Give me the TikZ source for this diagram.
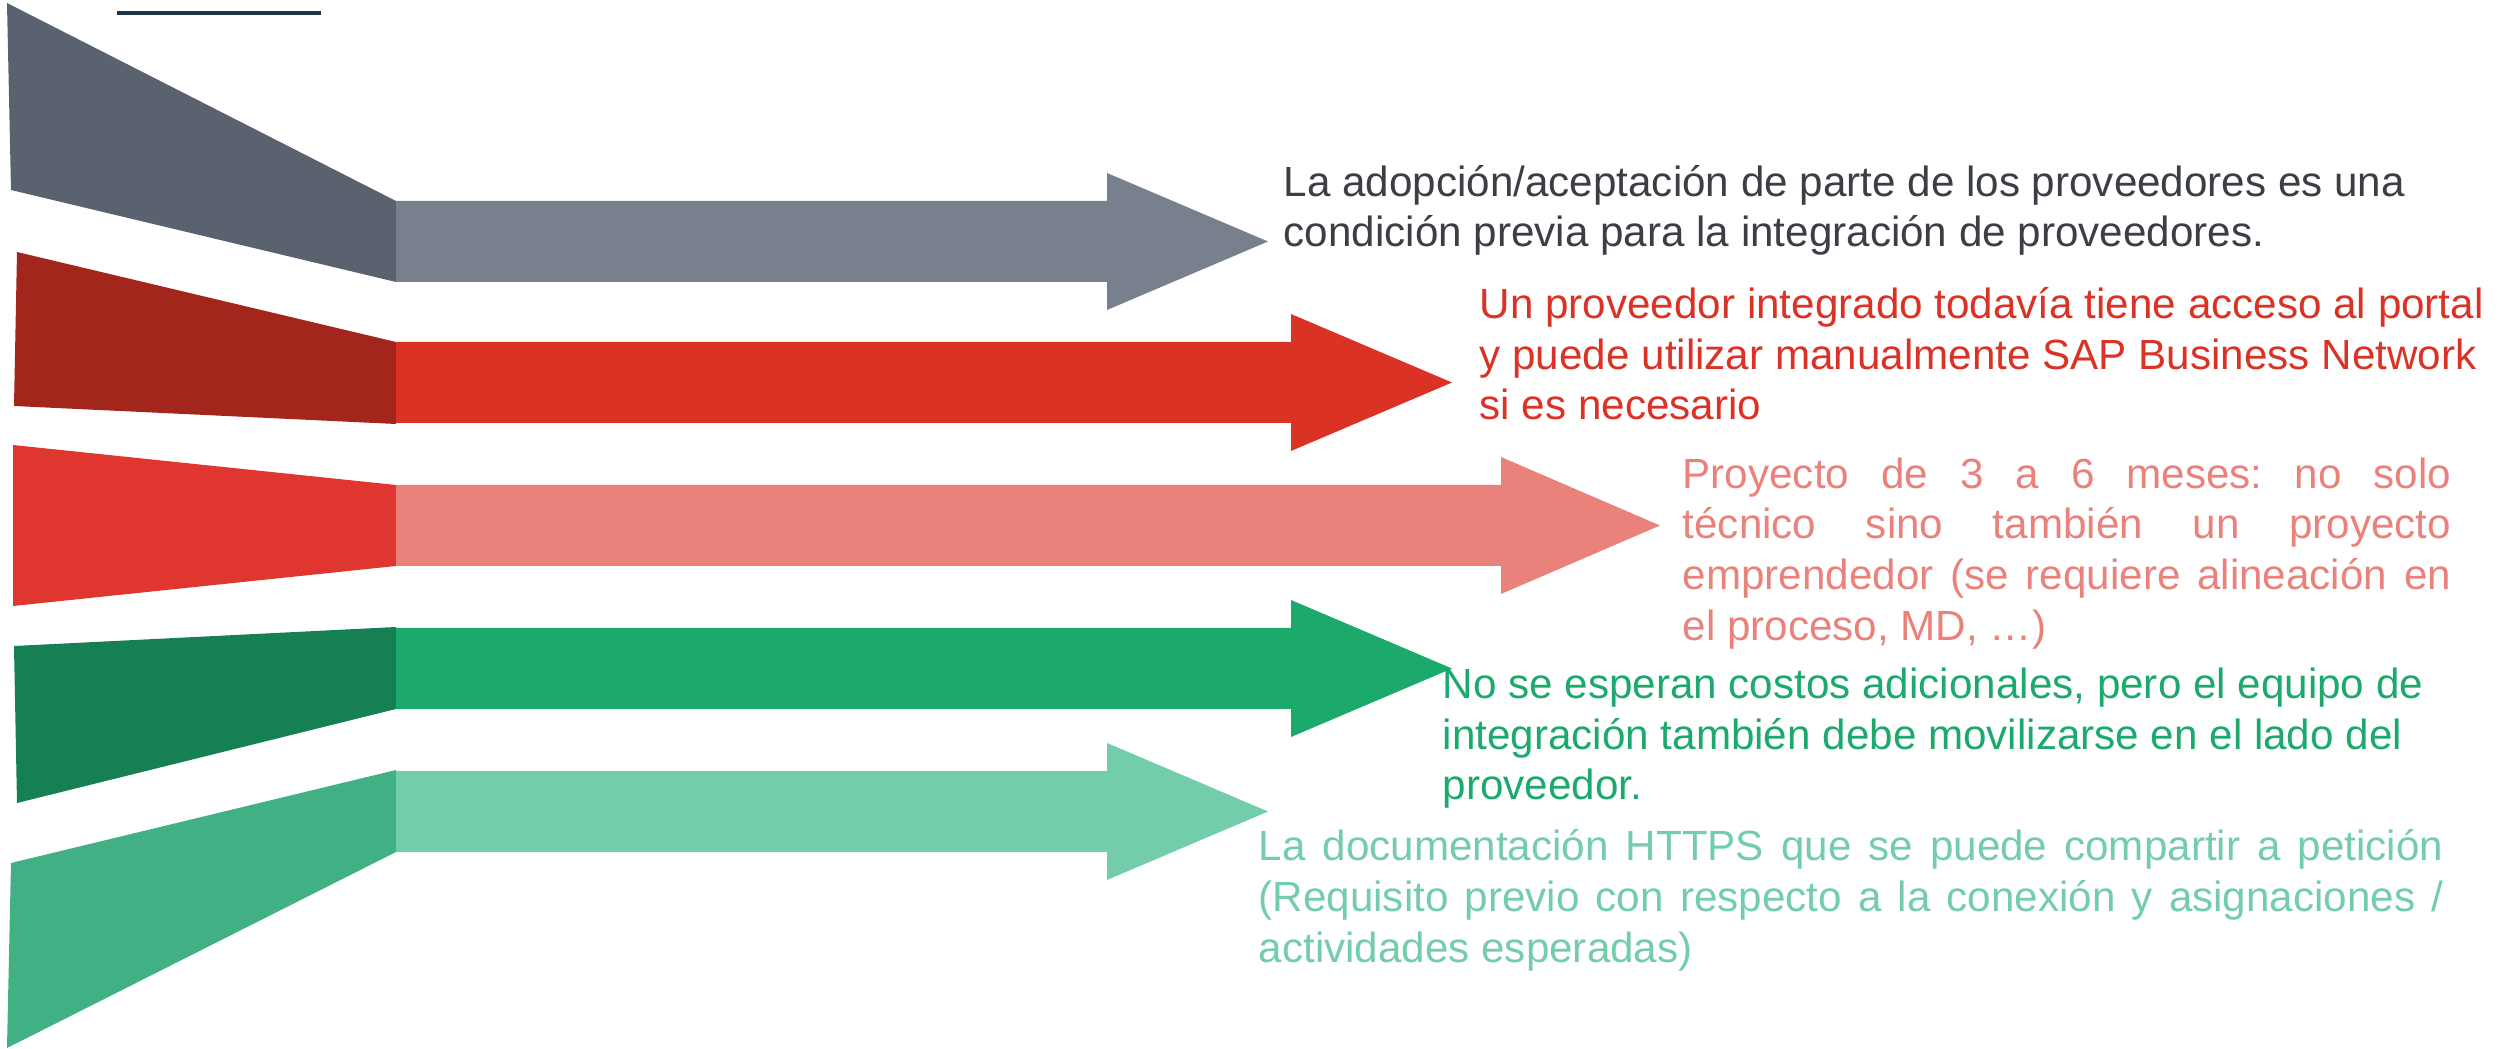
\documentclass[tikz,border=0pt]{standalone}
\usepackage{fontspec}
\setmainfont{Liberation Sans}
\frenchspacing
\definecolor{navyline}{HTML}{1F3347}
\definecolor{slateD}{HTML}{5A6270}
\definecolor{slateL}{HTML}{78808E}
\definecolor{wineD}{HTML}{A3261C}
\definecolor{redL}{HTML}{DA3225}
\definecolor{redD}{HTML}{E03630}
\definecolor{pinkL}{HTML}{EA827C}
\definecolor{greenD}{HTML}{167F53}
\definecolor{greenL}{HTML}{1BAA6C}
\definecolor{mintD}{HTML}{41B185}
\definecolor{mintL}{HTML}{74CDAA}
\definecolor{inkD}{HTML}{3B3F45}
\begin{document}
\begin{tikzpicture}[x=0.01cm,y=-0.01cm,
	txt/.style={anchor=base west,inner sep=0pt,align=left,font=\fontsize{12}{14.4}\selectfont}]
	\useasboundingbox (0,0) rectangle (2502,1049);
	\draw[navyline,line width=0.9pt] (117,13)--(321,13);
	% funnel pieces
	\fill[slateD] (7,3)--(396,201)--(396,282)--(11,190)--cycle;
	\fill[wineD] (17,252)--(396,342)--(396,424)--(14,406)--cycle;
	\fill[redD] (13,445)--(396,485)--(396,566)--(13,606)--cycle;
	\fill[greenD] (14,646)--(396,627)--(396,709)--(17,803)--cycle;
	\fill[mintD] (11,863)--(396,770)--(396,852)--(7,1048)--cycle;
	% arrows
	\foreach \c/\t/\h/\p in {slateL/201/1107/1268,redL/342/1291/1452,pinkL/485/1501/1660,greenL/628/1291/1452,mintL/771/1107/1268}{
		\fill[\c] (396,\t)--(\h,\t)--(\h,\t-28)--(\p,\t+40.5)--(\h,\t+109)--(\h,\t+81)--(396,\t+81)--cycle;
	}
	% texts (anchored on the last line)
	\node[txt,text=inkD] (adop) at (1283,247) {La adopción/aceptación de parte de los proveedores es una\\condición previa para la integración de proveedores.};
	\node[txt,text=redL] (portal) at (1479,420) {Un proveedor integrado todavía tiene acceso al portal\\y puede utilizar manualmente SAP Business Network\\si es necesario};
	\node[txt,text=pinkL] (proy) at (1682,640) {\makebox[7.68cm][s]{Proyecto de 3 a 6 meses: no solo}\\\makebox[7.68cm][s]{técnico sino también un proyecto}\\\makebox[7.68cm][s]{emprendedor (se requiere alineación en}\\el proceso, MD, …)};
	\node[txt,text=greenL] (costo) at (1442,800) {No se esperan costos adicionales, pero el equipo de\\integración también debe movilizarse en el lado del\\proveedor.};
	\node[txt,text=mintL] (doc) at (1258,962) {\makebox[11.84cm][s]{La documentación HTTPS que se puede compartir a petición}\\\makebox[11.84cm][s]{(Requisito previo con respecto a la conexión y asignaciones /}\\actividades esperadas)};
\end{tikzpicture}
\end{document}
